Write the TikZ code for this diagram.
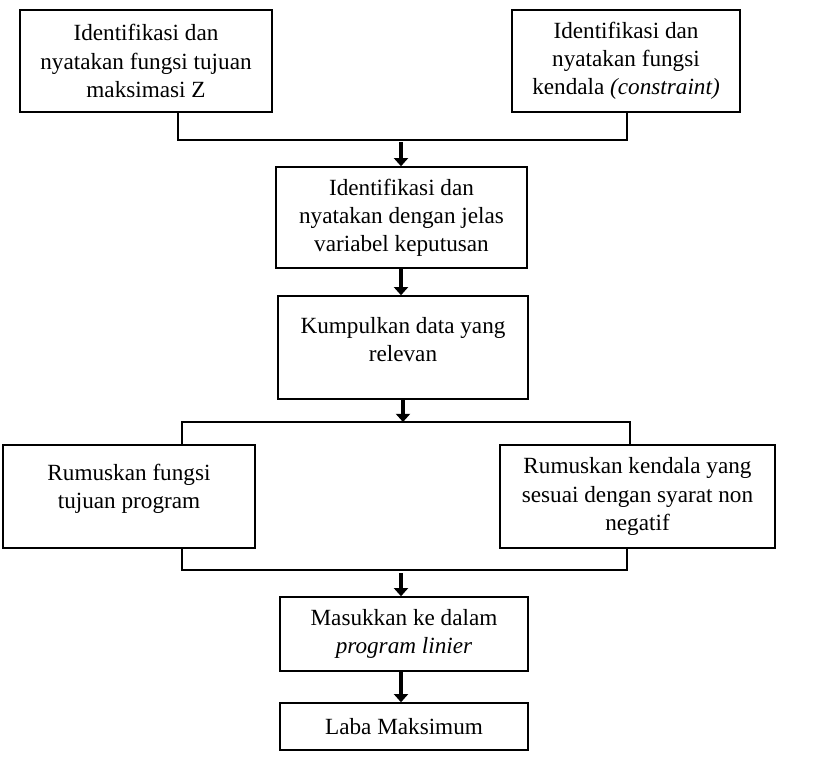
\documentclass[tikz,border=0pt]{standalone}
\usepackage{fontspec}
\setmainfont{Liberation Serif}
\usetikzlibrary{arrows.meta,positioning}
\begin{document}
\begin{tikzpicture}[x=0.03cm,y=-0.03cm,
  kotak/.style={draw, line width=1.3pt, align=center, inner sep=0pt,
    font=\fontsize{19.8}{24}\selectfont},
  panah/.style={line width=3.6pt, -{Triangle[width=12pt,length=7pt]}},
  garis/.style={line width=1.1pt}]
\useasboundingbox (0,0) rectangle (817,770);

% Kotak-kotak
\node [kotak, minimum width=7.56cm, minimum height=3.06cm] (fungsi) at (146,61)
  {Identifikasi dan\\nyatakan fungsi tujuan\\maksimasi Z};
\node [kotak, minimum width=6.84cm, minimum height=3.06cm] (kendala) at (626,61)
  {Identifikasi dan\\nyatakan fungsi\\kendala \textit{(constraint)}};
\node [kotak, minimum width=7.53cm, minimum height=3.03cm] (variabel) at (401.5,217.5)
  {Identifikasi dan\\nyatakan dengan jelas\\variabel keputusan};
\node [kotak, minimum width=7.5cm, minimum height=3.09cm] (data) at (403,347.5)
  {Kumpulkan data yang\\relevan\\[-10pt]};
\node [kotak, minimum width=7.56cm, minimum height=3.09cm] (tujuan) at (129,496.5)
  {Rumuskan fungsi\\tujuan program\\[-6pt]};
\node [kotak, minimum width=8.25cm, minimum height=3.09cm] (syarat) at (637.5,496.5)
  {Rumuskan kendala yang\\sesuai dengan syarat non\\negatif};
\node [kotak, minimum width=7.44cm, minimum height=2.22cm] (masuk) at (404,634)
  {Masukkan ke dalam\\\textit{program linier}};
\node [kotak, minimum width=7.44cm, minimum height=1.41cm] (laba) at (404,726.5)
  {Laba Maksimum};

% Garis penghubung atas
\coordinate (kiriA) at (178,140);
\coordinate (kananA) at (627,140);
\coordinate (tengahA) at (401,142);
\draw [garis] (fungsi.south -| kiriA) -- (kiriA) -- (kananA) -- (kendala.south -| kananA);
\draw [panah] (tengahA) -- (tengahA |- variabel.north);

\draw [panah] (variabel.south -| tengahA) -- (tengahA |- data.north);

% Percabangan tengah
\coordinate (kiriB) at (182,422);
\coordinate (kananB) at (630,422);
\coordinate (tengahB) at (403,422);
\draw [panah] (data.south -| tengahB) -- (tengahB);
\draw [garis] (kiriB |- tujuan.north) -- (kiriB) -- (kananB) -- (kananB |- syarat.north);

% Penggabungan bawah
\coordinate (kiriC) at (182,570);
\coordinate (kananC) at (627,570);
\coordinate (tengahC) at (401,573);
\draw [garis] (tujuan.south -| kiriC) -- (kiriC) -- (kananC) -- (syarat.south -| kananC);
\draw [panah] (tengahC) -- (tengahC |- masuk.north);

\draw [panah] (masuk.south -| tengahC) -- (tengahC |- laba.north);
\end{tikzpicture}
\end{document}
